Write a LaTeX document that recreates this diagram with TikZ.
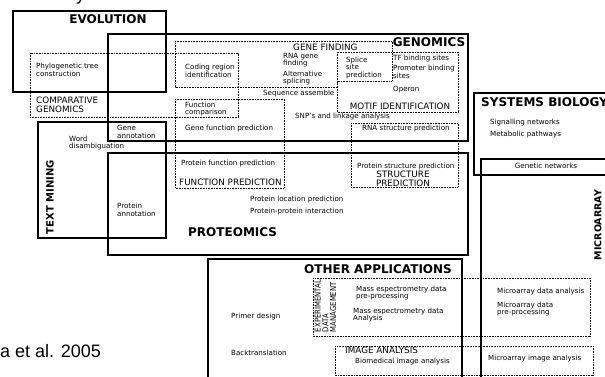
\documentclass[tikz,border=0pt]{standalone}
\usepackage{fontspec}
\setmainfont{DejaVu Sans}
\newfontfamily\citefont{Liberation Sans}
\begin{document}
\begin{tikzpicture}[x=1pt,y=-1pt,
  solidbox/.style={line width=1.5pt},
  dotbox/.style={line width=0.8pt, dash pattern=on 0.8pt off 0.8pt},
  small/.style={font=\fontsize{7.1}{7.3}\selectfont, inner sep=0pt, align=left},
  bigtitle/.style={font=\fontsize{12}{14}\selectfont\bfseries, inner sep=0pt},
  midtitle/.style={font=\fontsize{8.8}{9.3}\selectfont, inner sep=0pt, align=left},
  cite/.style={font=\citefont\fontsize{18}{20}\selectfont, inner sep=0pt},
]
\useasboundingbox (0,0) rectangle (605,377);
\clip (0,0) rectangle (605,377);

% solid boxes
\draw[solidbox] (13,11) rectangle (166,92);
\draw[solidbox] (108,34) rectangle (468,141);
\draw[solidbox] (38,122) rectangle (166,238);
\draw[solidbox] (108,153) rectangle (468,255);
\draw[solidbox] (474,93) rectangle (620,175);
\draw[solidbox] (481,159) rectangle (620,390);
\draw[solidbox] (208,259) rectangle (462,390);

% dotted boxes
\draw[dotbox] (30,53) rectangle (238,117);
\draw[dotbox] (175,41) -- (392,41) -- (392,81) -- (337,81) -- (337,87) -- (175,87) -- cycle;
\draw[dotbox] (337,52) rectangle (458,112);
\draw[dotbox] (175,99) rectangle (284,188);
\draw[dotbox] (351,123) rectangle (458,187);
\draw[dotbox] (313,278) rectangle (590,336);
\draw[dotbox] (335,346) rectangle (593,375);

% big titles
\node[bigtitle] (evo) at (108,19) {EVOLUTION};
\node[bigtitle] (gen) at (429,42) {GENOMICS};
\node[bigtitle, anchor=west] (prot) at (188,232) {PROTEOMICS};
\node[bigtitle] (oth) at (378,269) {OTHER APPLICATIONS};
\node[bigtitle, anchor=west] (sys) at (481,102) {SYSTEMS BIOLOGY};
\node[bigtitle, font=\fontsize{10}{12}\selectfont\bfseries, rotate=90] (tm) at (50,197) {TEXT MINING};
\node[bigtitle, font=\fontsize{9.5}{12}\selectfont\bfseries, rotate=90] (mic) at (598,225) {MICROARRAY};

% mid titles
\node[midtitle, anchor=west] (cg) at (36,105) {COMPARATIVE\\GENOMICS};
\node[midtitle, anchor=west] (gf) at (293,47) {GENE FINDING};
\node[midtitle] (mi) at (400,106) {MOTIF IDENTIFICATION};
\node[midtitle, anchor=west] (fp) at (179,182) {FUNCTION PREDICTION};
\node[midtitle, align=center] (sp) at (403,179) {STRUCTURE\\PREDICTION};
\node[midtitle, anchor=west] (ia) at (345,350) {IMAGE ANALYSIS};

% small texts
\node[small, anchor=west] (t1) at (36,70) {Phylogenetic tree\\construction};
\node[small, anchor=west] (t2) at (185,71) {Coding region\\identification};
\node[small, anchor=west] (t3) at (283,60) {RNA gene\\finding};
\node[small, anchor=west] (t4) at (283,78) {Alternative\\splicing};
\node[small, anchor=west] (t5) at (346,68) {Splice\\site\\prediction};
\node[small, anchor=west] (t6) at (393,59) {TF binding sites};
\node[small, anchor=west] (t7) at (393,72) {Promoter binding\\sites};
\node[small, anchor=west] (t8) at (393,90) {Operon};
\node[small, anchor=west] (t9) at (263,94) {Sequence assemble};
\node[small, anchor=west] (t10) at (295,117) {SNP's and linkage analysis};
\node[small, anchor=west] (t11) at (185,109) {Function\\comparison};
\node[small, anchor=west] (t12) at (185,129) {Gene function prediction};
\node[small, anchor=west] (t13) at (362,129) {RNA structure prediction};
\node[small, anchor=west] (t14) at (181,164) {Protein function prediction};
\node[small, anchor=west] (t15) at (357,167) {Protein structure prediction};
\node[small, anchor=west] (t16) at (250,200) {Protein location prediction};
\node[small, anchor=west] (t17) at (250,212) {Protein-protein interaction};
\node[small, anchor=west] (t18) at (117,132) {Gene\\annotation};
\node[small, anchor=west] (t19) at (69,143) {Word\\disambiguation};
\node[small, anchor=west] (t20) at (117,210) {Protein\\annotation};
\node[small, anchor=west] (t21) at (490,123) {Signalling networks};
\node[small, anchor=west] (t22) at (490,135) {Metabolic pathways};
\node[small] (t23) at (546,166) {Genetic networks};
\node[small, anchor=west] (t24) at (231,317) {Primer design};
\node[small, anchor=west] (t25) at (231,353) {Backtranslation};
\node[small, anchor=west] (t26) at (356,293) {Mass espectrometry data\\pre-processing};
\node[small, anchor=west] (t27) at (353,315) {Mass espectrometry data\\Analysis};
\node[small, anchor=west] (t28) at (355,362) {Biomedical image analysis};
\node[small, anchor=west] (t29) at (497,292) {Microarray data analysis};
\node[small, anchor=west] (t30) at (497,309) {Microarray data\\pre-processing};
\node[small, anchor=west] (t31) at (488,359) {Microarray image analysis};
\node[small, font=\fontsize{8}{7.8}\selectfont, rotate=90] (edm) at (325.5,306)
  {\scalebox{0.86}[1]{EXPERIMENTAL}\\\scalebox{0.86}[1]{DATA}\\\scalebox{0.86}[1]{MANAGEMENT}};

% citation fragments
\node[cite, anchor=base west] (cit) at (0,357) {a et al. 2005};
\node[cite, anchor=base west] (frag) at (76,0.5) {y};
\end{tikzpicture}
\end{document}
